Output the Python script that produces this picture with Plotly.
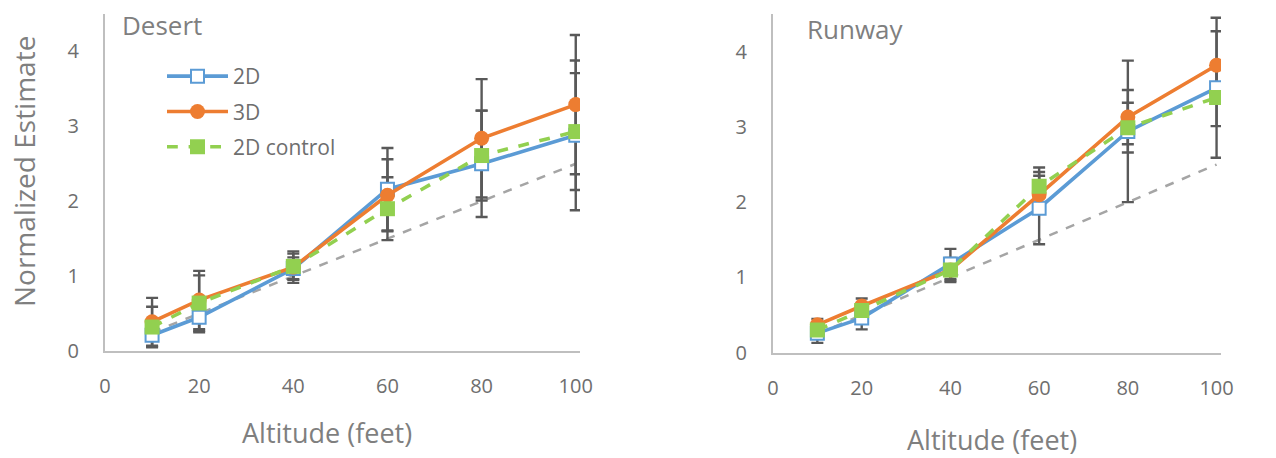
import plotly.graph_objects as go

# Altitudes (feet) at which estimates were collected
altitudes = [10, 20, 40, 60, 80, 100]
x_ticks = [0, 20, 40, 60, 80, 100]
y_ticks = [0, 1, 2, 3, 4]

# Ideal (unbiased) estimate line
ideal = [0.25, 0.5, 1.0, 1.5, 2.0, 2.5]

# Desert condition
desert_2d = [0.21, 0.45, 1.10, 2.16, 2.50, 2.88]
desert_2d_err = [0.15, 0.20, 0.15, 0.55, 0.71, 1.00]
desert_3d = [0.39, 0.68, 1.12, 2.08, 2.84, 3.29]
desert_3d_err = [0.32, 0.39, 0.21, 0.48, 0.79, 0.93]
desert_ctrl = [0.32, 0.64, 1.13, 1.90, 2.61, 2.93]
desert_ctrl_err = [0.27, 0.37, 0.17, 0.42, 0.60, 0.78]

# Runway condition
runway_2d = [0.26, 0.46, 1.18, 1.92, 2.94, 3.52]
runway_2d_err = [0.13, 0.15, 0.20, 0.48, 0.94, 0.93]
runway_3d = [0.37, 0.62, 1.10, 2.10, 3.13, 3.82]
runway_3d_err = [0.08, 0.10, 0.16, 0.25, 0.36, 0.45]
runway_ctrl = [0.30, 0.56, 1.10, 2.21, 2.99, 3.39]
runway_ctrl_err = [0.08, 0.10, 0.14, 0.25, 0.33, 0.38]

BLUE = "#5B9BD5"
ORANGE = "#ED7D31"
GREEN = "#92D050"
GREY = "#A5A5A5"
ERR = "#595959"
AXIS = "#BFBFBF"
TEXT = "#7F7F7F"
TICK = "#6E6E6E"
FONT = "Open Sans"

W, H = 1276, 458

panels = [
    ("x", "y", desert_2d, desert_2d_err, desert_3d, desert_3d_err, desert_ctrl, desert_ctrl_err, True),
    ("x2", "y2", runway_2d, runway_2d_err, runway_3d, runway_3d_err, runway_ctrl, runway_ctrl_err, False),
]

fig = go.Figure()

for xa, ya, s2d, e2d, s3d, e3d, sc, ec, show in panels:
    # dashed ideal line
    fig.add_trace(go.Scatter(
        x=altitudes, y=ideal, mode="lines", xaxis=xa, yaxis=ya,
        line=dict(color=GREY, width=2.5, dash="dash"), showlegend=False, hoverinfo="skip"))
    # error bars drawn underneath all series markers
    for vals, errs in ((s2d, e2d), (s3d, e3d), (sc, ec)):
        fig.add_trace(go.Scatter(
            x=altitudes, y=vals, mode="markers", xaxis=xa, yaxis=ya,
            marker=dict(size=1, color="rgba(0,0,0,0)"),
            error_y=dict(type="data", array=errs, visible=True, color=ERR, thickness=2.4, width=6),
            showlegend=False, hoverinfo="skip"))
    fig.add_trace(go.Scatter(
        x=altitudes, y=s2d, mode="lines+markers", name="2D", xaxis=xa, yaxis=ya,
        legendgroup="2d",
        line=dict(color=BLUE, width=3.6),
        marker=dict(symbol="square", size=13, color="white", line=dict(color=BLUE, width=2)),
        showlegend=show))
    fig.add_trace(go.Scatter(
        x=altitudes, y=s3d, mode="lines+markers", name="3D", xaxis=xa, yaxis=ya,
        legendgroup="3d",
        line=dict(color=ORANGE, width=3.6),
        marker=dict(symbol="circle", size=15, color=ORANGE),
        showlegend=show))
    fig.add_trace(go.Scatter(
        x=altitudes, y=sc, mode="lines+markers", name="2D control", xaxis=xa, yaxis=ya,
        legendgroup="ctrl",
        line=dict(color=GREEN, width=3.6, dash="dash"),
        marker=dict(symbol="square", size=15, color=GREEN),
        showlegend=show))

common_x = dict(
    tickvals=x_ticks, showgrid=False, zeroline=False, showline=True,
    linecolor=AXIS, linewidth=2, ticks="", ticklabelstandoff=16,
    tickfont=dict(family=FONT, size=20, color=TICK))
common_y = dict(
    range=[0, 4.5], tickvals=y_ticks, showgrid=False, zeroline=False, showline=True,
    linecolor=AXIS, linewidth=2, ticks="", ticklabelstandoff=20,
    tickfont=dict(family=FONT, size=20, color=TICK))

fig.update_layout(
    width=W, height=H, autosize=False,
    margin=dict(l=0, r=0, t=0, b=0, pad=0, autoexpand=False),
    paper_bgcolor="white", plot_bgcolor="white",
    font=dict(family=FONT, color=TEXT),
    xaxis=dict(domain=[105 / W, 580 / W], range=[0, 100.9], anchor="y", **common_x),
    yaxis=dict(domain=[107 / H, 444 / H], anchor="x", **common_y),
    xaxis2=dict(domain=[773 / W, 1221 / W], range=[0, 101], anchor="y2", **common_x),
    yaxis2=dict(domain=[105.3 / H, 444 / H], anchor="x2", **common_y),
    legend=dict(
        x=162 / W, y=1 - 56 / H, xanchor="left", yanchor="top",
        bgcolor="rgba(0,0,0,0)", font=dict(family=FONT, size=21, color=TICK),
        traceorder="grouped", tracegroupgap=5, itemwidth=61),
    showlegend=True,
    annotations=[
        dict(text="Desert", x=120 / W, y=1 - 25 / H, xref="paper", yref="paper",
             xanchor="left", yanchor="middle", showarrow=False,
             font=dict(family=FONT, size=26, color=TEXT)),
        dict(text="Runway", x=805 / W, y=1 - 29 / H, xref="paper", yref="paper",
             xanchor="left", yanchor="middle", showarrow=False,
             font=dict(family=FONT, size=26, color=TEXT)),
        dict(text="Normalized Estimate", x=24 / W, y=1 - 172 / H, xref="paper", yref="paper",
             xanchor="center", yanchor="middle", showarrow=False, textangle=-90,
             font=dict(family=FONT, size=28, color=TEXT)),
        dict(text="Altitude (feet)", x=327 / W, y=1 - 432 / H, xref="paper", yref="paper",
             xanchor="center", yanchor="middle", showarrow=False,
             font=dict(family=FONT, size=27, color=TEXT)),
        dict(text="Altitude (feet)", x=992 / W, y=1 - 439 / H, xref="paper", yref="paper",
             xanchor="center", yanchor="middle", showarrow=False,
             font=dict(family=FONT, size=27, color=TEXT)),
    ],
)

fig.write_html("out.html")
